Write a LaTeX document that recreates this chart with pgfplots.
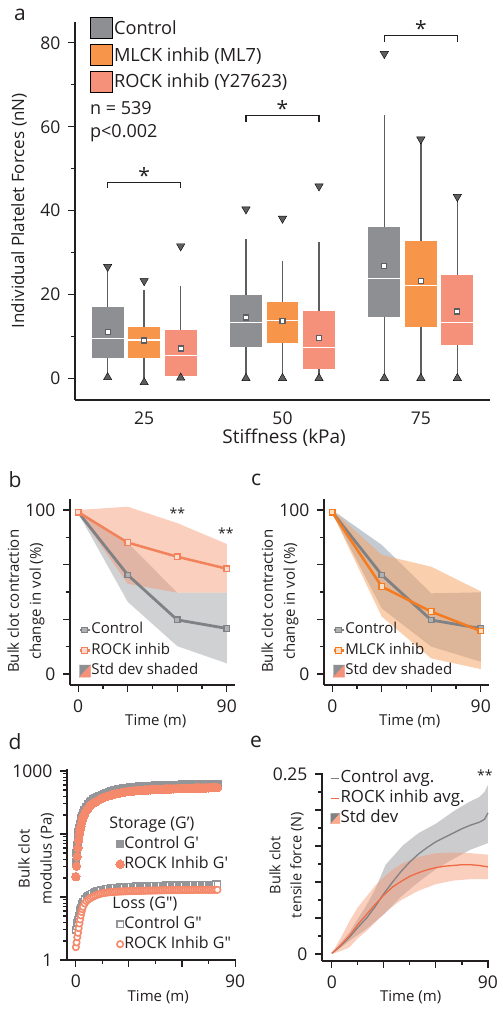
\documentclass[border=0pt]{standalone}
\usepackage{fontspec}
\setmainfont{Open Sans}
\usepackage{pgfplots}
\pgfplotsset{compat=1.18}
\usepgfplotslibrary{statistics}
\usepackage{pgfplotstable}

\definecolor{cgray}{HTML}{8E8F93}
\definecolor{corange}{HTML}{F7964A}
\definecolor{csalmon}{HTML}{F5907A}
\definecolor{cdark}{HTML}{5D5E61}
\definecolor{caxis}{HTML}{231F20}
\definecolor{fgray}{HTML}{A3A5A8}
\definecolor{fsalmon}{HTML}{F7956F}
\definecolor{fblue}{HTML}{8B97A7}
\definecolor{forange}{HTML}{F7A15F}
\definecolor{lgray}{HTML}{808184}
\definecolor{lsalmon}{HTML}{F2825C}
\definecolor{lorange}{HTML}{F47B20}
\definecolor{dsalmon}{HTML}{F5896B}
\definecolor{dgray}{HTML}{939598}
\definecolor{esalmon}{HTML}{EE6A45}

\newcommand\fs[1]{\fontsize{#1}{#1}\selectfont}

\pgfplotstableread{
t cGp rGp cGpp rGpp
0 35 21 3.0 1.6
0.4 50 31 3.4 1.9
0.8 66 44 3.9 2.3
1.2 85 60 4.4 2.7
1.6 105 80 5.0 3.2
2.0 125 100 5.6 3.8
2.4 143 116 6.2 4.4
2.8 161 132 6.8 5.1
3.2 178 148 7.4 5.8
3.6 194 164 7.9 6.4
4 210 180 8.4 7.0
5 240 208 9.3 7.9
6 270 235 10.0 8.6
7 293 258 10.6 9.1
8 315 280 11.0 9.5
9 333 295 11.4 9.9
10 350 310 11.8 10.2
11 363 322 12.1 10.5
12 377 334 12.4 10.8
13 390 345 12.65 11.05
14 403 357 12.9 11.3
15 415 368 13.05 11.45
16 428 379 13.2 11.6
17 440 390 13.4 11.7
18 450 398 13.5 11.8
19 460 406 13.65 11.9
20 470 414 13.8 12.0
21 480 422 13.9 12.04
22 490 430 14.0 12.08
23 497 436 14.1 12.12
24 504 442 14.2 12.16
25 511 448 14.3 12.2
26 518 454 14.36 12.24
27 525 460 14.42 12.28
28 530 464 14.48 12.32
29 535 468 14.54 12.36
30 540 472 14.6 12.4
31 545 476 14.64 12.42
32 550 480 14.68 12.44
33 553 482 14.72 12.46
34 556 485 14.76 12.48
35 559 487 14.8 12.5
36 563 490 14.84 12.52
37 566 492 14.88 12.54
38 569 495 14.92 12.56
39 572 497 14.96 12.58
40 575 500 15.0 12.6
41 577 501 15.03 12.62
42 578 503 15.06 12.64
43 580 504 15.09 12.66
44 582 506 15.12 12.68
45 584 507 15.15 12.7
46 585 509 15.18 12.72
47 587 510 15.21 12.74
48 589 512 15.24 12.76
49 590 513 15.27 12.78
50 592 515 15.3 12.8
51 593 516 15.32 12.81
52 594 517 15.34 12.82
53 596 518 15.36 12.83
54 597 520 15.38 12.84
55 598 521 15.4 12.85
56 599 522 15.42 12.86
57 600 523 15.44 12.87
58 601 524 15.46 12.88
59 603 526 15.48 12.89
60 604 527 15.5 12.9
61 605 528 15.52 12.91
62 606 529 15.54 12.92
63 607 530 15.56 12.93
64 608 531 15.58 12.94
65 609 532 15.6 12.95
66 609 533 15.62 12.96
67 610 534 15.64 12.97
68 611 535 15.66 12.98
69 612 536 15.68 12.99
70 613 537 15.7 13.0
71 614 538 15.72 13.0
72 614 539 15.74 13.0
73 615 540 15.76 13.0
74 616 540 15.78 13.0
75 616 541 15.8 13.0
76 617 542 15.82 13.0
77 618 543 15.84 13.0
78 618 543 15.86 13.0
79 619 544 15.88 13.0
80 620 545 15.9 13.0
}\dtab

\pgfplotsset{
  myaxis/.style={
    scale only axis, anchor=south west, axis lines=left, clip=false,
    axis line style={caxis, line width=1.3bp, -},
    tick style={caxis, line width=1.1bp},
    tick align=outside, major tick length=7bp, minor tick length=4bp,
    /pgf/number format/assume math mode=true,
    tick label style={font=\fs{17.5bp}, text=caxis},
    label style={font=\fs{15bp}, text=caxis},
    yticklabel style={xshift=-4bp},
    xticklabel style={yshift=-4bp},
  },
  bp/.style n args={7}{forget plot,
    boxplot prepared={draw position=#2, lower whisker=#3, lower quartile=#4,
      median=#5, upper quartile=#6, upper whisker=#7,
      box extend=0.23, whisker extend=0},
    boxplot/draw direction=y,
    draw=none, fill=#1,
    boxplot/every box/.style={draw=none, fill=#1},
    boxplot/every whisker/.style={draw=cdark, line width=1.6bp},
    boxplot/every median/.style={draw=white, line width=1.3bp}},
}

\begin{document}
\begin{tikzpicture}
\useasboundingbox (0,0) rectangle (503bp,1014bp);
\fill[white] (0,0) rectangle (503bp,1014bp);

% ---------------- panel a
\node[font=\fs{21bp}, text=caxis] at (20bp,999bp) {a};
\begin{axis}[myaxis, at={(75bp,614bp)}, width=415bp, height=378bp,
  xmin=0.5, xmax=3.5, ymin=-5.2, ymax=85,
  xtick={1,2,3}, xticklabels={25,50,75}, x tick style={draw=none},
  xticklabel style={yshift=3bp},
  ytick={0,20,40,60,80}, minor ytick={10,30,50,70},
  xlabel={Stiffness (kPa)}, ylabel={Individual Platelet Forces (nN)},
  label style={font=\fs{17bp}},
  xlabel style={at={(axis description cs:0.504,-0.1005)}, anchor=center, font=\fs{19bp}},
  ylabel style={at={(axis description cs:-0.135,0.5)}, anchor=center},
  legend style={at={(axis description cs:0.036,1.013)}, anchor=north west,
    draw=none, fill=none, inner sep=0pt, font=\fs{18.2bp}, text=caxis,
    row sep=5.5bp, nodes={inner sep=1.5bp}},
  legend cell align=left,
  legend image code/.code={\fill[#1] (0bp,-10.5bp) rectangle (22bp,10.5bp);},
]
\addlegendimage{fill=cgray}\addlegendentry{Control}
\addlegendimage{fill=corange}\addlegendentry{MLCK inhib (ML7)}
\addlegendimage{fill=csalmon}\addlegendentry{ROCK inhib (Y27623)}

\addplot[bp={cgray}{0.736}{0}{4.9}{9.5}{16.9}{26.6}] coordinates {};
\addplot[bp={corange}{1}{0}{4.8}{9.1}{12.2}{21}] coordinates {};
\addplot[bp={csalmon}{1.264}{0}{0.6}{5.4}{11.4}{22}] coordinates {};
\addplot[bp={cgray}{1.736}{0}{7.4}{13.3}{19.9}{33.1}] coordinates {};
\addplot[bp={corange}{2}{0}{8.3}{13.7}{18.3}{28}] coordinates {};
\addplot[bp={csalmon}{2.264}{0}{2.1}{7.4}{16.1}{32.4}] coordinates {};
\addplot[bp={cgray}{2.736}{0}{14.7}{23.8}{36.1}{62.7}] coordinates {};
\addplot[bp={corange}{3}{0}{12.1}{22.2}{32.7}{57.6}] coordinates {};
\addplot[bp={csalmon}{3.264}{0}{7.9}{13.3}{24.6}{43.3}] coordinates {};

% means
\addplot[forget plot, only marks, mark=square*, mark size=2.5bp,
  mark options={fill=white, draw=cdark, line width=1.2bp}] coordinates {
  (0.736,11.0) (1,9.0) (1.264,7.1) (1.736,14.5) (2,13.7) (2.264,9.6)
  (2.736,26.8) (3,23.2) (3.264,15.9)};
% max
\addplot[forget plot, only marks, mark=triangle*, mark size=4.8bp,
  mark options={rotate=180, fill=cdark, draw=none}] coordinates {
  (0.736,26.6) (1,23.2) (1.264,31.5) (1.736,40.3) (2,38.1) (2.264,45.8)
  (2.736,77.4) (3,57.0) (3.264,43.3)};
% min
\addplot[forget plot, only marks, mark=triangle*, mark size=4.8bp,
  mark options={fill=cdark, draw=none}] coordinates {
  (0.736,0.2) (1,-1.0) (1.264,0.1) (1.736,0) (2,0) (2.264,0)
  (2.736,0) (3,0) (3.264,0)};
% brackets
\addplot[forget plot, caxis, line width=1.3bp] coordinates {(0.736,45.5) (0.736,46.7) (1.264,46.7) (1.264,45.5)};
\addplot[forget plot, caxis, line width=1.3bp] coordinates {(1.736,61.2) (1.736,62.7) (2.264,62.7) (2.264,61.2)};
\addplot[forget plot, caxis, line width=1.3bp] coordinates {(2.736,80.3) (2.736,81.7) (3.264,81.7) (3.264,80.3)};
\node[anchor=north, inner sep=0pt, font=\fs{21bp}, text=caxis] at (axis cs:1,50.4) {*};
\node[anchor=north, inner sep=0pt, font=\fs{21bp}, text=caxis] at (axis cs:2,66.2) {*};
\node[anchor=north, inner sep=0pt, font=\fs{21bp}, text=caxis] at (axis cs:3,85.3) {*};
\node[anchor=west, inner sep=0pt, font=\fs{18bp}, text=caxis] at (axis cs:0.608,64.5) {n = 539};
\node[anchor=west, inner sep=0pt, font=\fs{18bp}, text=caxis] at (axis cs:0.608,58.5) {p<0.002};
\end{axis}

% ---------------- panel b
\node[font=\fs{21bp}, text=caxis] at (15bp,534bp) {b};
\begin{axis}[myaxis, at={(70bp,329bp)}, width=165bp, height=186bp,
  xmin=-5, xmax=95, ymin=-6.7, ymax=106.7,
  xtick={0,30,60,90}, xticklabels={0,,,90}, minor xtick={15,45,75},
  ytick={0,33.333,66.667,100}, yticklabels={0,,,100}, minor ytick={16.667,50,83.333},
  xlabel={Time (m)}, ylabel={Bulk clot contraction\\change in vol (\%)},
  xlabel style={at={(axis description cs:0.52,-0.192)}, anchor=center},
  ylabel style={at={(axis description cs:-0.267,0.45)}, anchor=center, align=center,
    font=\fontsize{15bp}{22bp}\selectfont},
  legend style={at={(axis description cs:0.048,0.338)}, anchor=north west,
    draw=none, fill=none, inner sep=0pt, font=\fs{15bp}, text=caxis,
    row sep=5bp, nodes={inner sep=0.5bp, text height=11bp, text depth=3.5bp}},
  legend cell align=left,
  legend image code/.code={\draw[mark repeat=2,mark phase=2,#1] plot coordinates {(0bp,0bp) (5bp,0bp) (10bp,0bp)};},
]
\addplot[forget plot, fill=fgray, fill opacity=0.5, draw=none] coordinates {
  (0,100) (30,80) (60,49.6) (90,49.6) (90,6.5) (60,17) (30,44) (0,98)};
\addplot[forget plot, fill=fsalmon, fill opacity=0.45, draw=none] coordinates {
  (0,100) (30,102) (60,92) (90,79.3) (90,49.6) (60,49.6) (30,55) (0,98)};
\addplot[lgray, line width=2.8bp, mark=square*, mark size=2.8bp,
  mark options={fill=cgray!70!white, draw=lgray, line width=1.2bp}] coordinates {
  (0,98.6) (30,60.4) (60,33.0) (90,27.8)};
\addlegendentry{Control}
\addplot[lsalmon, line width=2.5bp, mark=square*, mark size=2.8bp,
  mark options={fill=fsalmon!35!white, draw=lsalmon, line width=1.2bp}] coordinates {
  (0,98.6) (30,80.1) (60,71.5) (90,64.2)};
\addlegendentry{ROCK inhib}
\addlegendimage{legend image code/.code={\fill[cgray] (0bp,-6bp) -- (0bp,6bp) -- (11bp,6bp) -- cycle; \fill[csalmon] (0bp,-6bp) -- (11bp,-6bp) -- (11bp,6bp) -- cycle;}}
\addlegendentry{Std dev shaded}
\node[anchor=north, inner sep=0pt, font=\fs{14bp}, text=caxis] at (axis cs:60,101.6) {**};
\node[anchor=north, inner sep=0pt, font=\fs{14bp}, text=caxis] at (axis cs:89.5,89.5) {**};
\end{axis}

% ---------------- panel c
\node[font=\fs{21bp}, text=caxis] at (256bp,534bp) {c};
\begin{axis}[myaxis, at={(324bp,329bp)}, width=165bp, height=186bp,
  xmin=-5, xmax=95, ymin=-6.7, ymax=106.7,
  xtick={0,30,60,90}, xticklabels={0,,,90}, minor xtick={15,45,75},
  ytick={0,33.333,66.667,100}, yticklabels={0,,,100}, minor ytick={16.667,50,83.333},
  xlabel={Time (m)}, ylabel={Bulk clot contraction\\change in vol (\%)},
  xlabel style={at={(axis description cs:0.52,-0.192)}, anchor=center},
  ylabel style={at={(axis description cs:-0.267,0.45)}, anchor=center, align=center,
    font=\fontsize{15bp}{22bp}\selectfont},
  legend style={at={(axis description cs:0.048,0.338)}, anchor=north west,
    draw=none, fill=none, inner sep=0pt, font=\fs{15bp}, text=caxis,
    row sep=5bp, nodes={inner sep=0.5bp, text height=11bp, text depth=3.5bp}},
  legend cell align=left,
  legend image code/.code={\draw[mark repeat=2,mark phase=2,#1] plot coordinates {(0bp,0bp) (5bp,0bp) (10bp,0bp)};},
]
\addplot[forget plot, fill=fblue, fill opacity=0.5, draw=none] coordinates {
  (0,100) (30,78.7) (60,49.2) (90,49.8) (90,7.5) (60,16.7) (30,40) (0,98)};
\addplot[forget plot, fill=forange, fill opacity=0.5, draw=none] coordinates {
  (0,100) (30,72.6) (60,65.4) (90,50.4) (90,3) (60,9.5) (30,35) (0,98)};
\addplot[lgray, line width=2.8bp, mark=square*, mark size=2.8bp,
  mark options={fill=cgray!70!white, draw=lgray, line width=1.2bp}] coordinates {
  (0,98.6) (30,60.4) (60,32.9) (90,27.8)};
\addlegendentry{Control}
\addplot[lorange, line width=2.5bp, mark=square*, mark size=2.8bp,
  mark options={fill=forange!35!white, draw=lorange, line width=1.2bp}] coordinates {
  (0,98.6) (30,53.3) (60,38.0) (90,26.2)};
\addlegendentry{MLCK inhib}
\addlegendimage{legend image code/.code={\fill[cgray] (0bp,-6bp) -- (0bp,6bp) -- (11bp,6bp) -- cycle; \fill[csalmon] (0bp,-6bp) -- (11bp,-6bp) -- (11bp,6bp) -- cycle;}}
\addlegendentry{Std dev shaded}
\end{axis}

% ---------------- panel d
\node[font=\fs{21bp}, text=caxis] at (15bp,272bp) {d};
\begin{axis}[myaxis, at={(67bp,54bp)}, width=169bp, height=191bp,
  xmin=-5, xmax=90.5, ymode=log, ymin=1, ymax=1076,
  ytick={1,10,100,1000}, yticklabels={1,,,1000},
  minor ytick={2,3,4,5,6,7,8,9,20,30,40,50,60,70,80,90,200,300,400,500,600,700,800,900},
  xtick={0,30,60,90}, xticklabels={0,,,90}, minor xtick={15,45,75},
  xlabel={Time (m)}, ylabel={Bulk clot\\modulus (Pa)},
  xlabel style={at={(axis description cs:0.54,-0.194)}, anchor=center},
  ylabel style={at={(axis description cs:-0.183,0.53)}, anchor=center, align=center,
    font=\fontsize{15bp}{22bp}\selectfont},
  legend style={at={(axis description cs:0.263,0.754)}, anchor=north west,
    draw=none, fill=none, inner sep=0pt, font=\fs{16bp}, text=caxis,
    row sep=4bp, nodes={inner sep=0bp, text height=12bp, text depth=4bp}},
  legend cell align=left,
]
\addplot[forget plot, dgray, only marks, mark=square*, mark size=3.8bp,
  mark options={draw=dgray, line width=0pt, fill=dgray}] table[x=t, y=cGp] {\dtab};
\addplot[forget plot, dsalmon, only marks, mark=*, mark size=4.2bp,
  mark options={draw=dsalmon, line width=0pt, fill=dsalmon}] table[x=t, y=rGp] {\dtab};
\addplot[forget plot, dgray, only marks, mark=square*, mark size=3.1bp,
  mark options={draw=dgray, fill=white, line width=1.5bp}] table[x=t, y=cGpp] {\dtab};
\addplot[forget plot, dsalmon, only marks, mark=*, mark size=3.2bp,
  mark options={draw=dsalmon, fill=white, line width=1.6bp}] table[x=t, y=rGpp] {\dtab};
\addlegendimage{empty legend}\addlegendentry{\hspace*{-15bp}Storage (G’)}
\addlegendimage{dgray, only marks, mark=square*, mark size=3.8bp, mark options={draw=dgray, line width=0pt, fill=dgray}}
\addlegendentry{Control G\textquotesingle}
\addlegendimage{dsalmon, only marks, mark=*, mark size=4.2bp, mark options={draw=dsalmon, line width=0pt, fill=dsalmon}}
\addlegendentry{ROCK Inhib G\textquotesingle}
\addlegendimage{empty legend}\addlegendentry{}
\addlegendimage{empty legend}\addlegendentry{\hspace*{-12bp}Loss (G\textquotedbl)}
\addlegendimage{dgray, only marks, mark=square*, mark size=3.1bp, mark options={draw=dgray, fill=white, line width=1.5bp}}
\addlegendentry{Control G\textquotedbl}
\addlegendimage{dsalmon, only marks, mark=*, mark size=3.2bp, mark options={draw=dsalmon, fill=white, line width=1.6bp}}
\addlegendentry{ROCK Inhib G\textquotedbl}
\end{axis}

% ---------------- panel e
\node[font=\fs{21bp}, text=caxis] at (256bp,272bp) {e};
\begin{axis}[myaxis, at={(322bp,53bp)}, width=167bp, height=188bp,
  xmin=-5.7, xmax=90.6, ymin=-0.0097, ymax=0.2514,
  ytick={0,0.05,0.1,0.15,0.2,0.25}, yticklabels={0,,,,,0.25},
  minor ytick={0.025,0.075,0.125,0.175,0.225},
  xtick={0,30,60,90}, xticklabels={0,,,90}, minor xtick={15,45,75},
  xlabel={Time (m)}, ylabel={Bulk clot\\tensile force (N)},
  xlabel style={at={(axis description cs:0.531,-0.19)}, anchor=center},
  ylabel style={at={(axis description cs:-0.2126,0.51)}, anchor=center, align=center,
    font=\fontsize{14.5bp}{21bp}\selectfont},
  legend style={at={(axis description cs:0.048,1.016)}, anchor=north west,
    draw=none, fill=none, inner sep=0pt, font=\fs{16.8bp}, text=caxis,
    row sep=3bp, nodes={inner sep=0.5bp, text height=12bp, text depth=4bp}},
  legend cell align=left,
  legend image code/.code={\draw[#1] (0bp,0bp) -- (8bp,0bp);},
]
\addplot[forget plot, fill=cgray, fill opacity=0.45, draw=none] coordinates {
  (0,0.001) (10,0.03) (20,0.068) (25,0.09) (31,0.124) (41,0.151) (50,0.168)
  (60,0.181) (70,0.198) (79,0.211) (85,0.218) (88,0.225) (90,0.235)
  (90,0.154) (80,0.145) (70,0.132) (60,0.118) (50,0.10) (40,0.08) (30,0.055)
  (20,0.035) (10,0.018) (0,0)};
\addplot[forget plot, fill=fsalmon, fill opacity=0.45, draw=none] coordinates {
  (0,0.001) (5,0.022) (10,0.045) (15,0.065) (20,0.08) (25,0.095) (30,0.107)
  (35,0.117) (40,0.125) (50,0.135) (60,0.14) (70,0.141) (80,0.14) (90,0.138)
  (90,0.104) (80,0.104) (70,0.102) (60,0.097) (50,0.088) (40,0.075) (35,0.066)
  (30,0.056) (25,0.044) (20,0.032) (15,0.022) (10,0.009) (5,0.004) (0,0)};
\addplot[lgray, line width=1.3bp] coordinates {
  (0,0.001) (5,0.011) (10,0.023) (15,0.037) (20,0.050) (25,0.066) (30,0.084)
  (35,0.100) (40,0.115) (45,0.128) (50,0.139) (55,0.148) (60,0.156) (65,0.162)
  (70,0.168) (75,0.174) (80,0.179) (85,0.183) (88,0.187) (90,0.196)};
\addlegendentry{Control avg.}
\addplot[esalmon, line width=1.3bp] coordinates {
  (0,0.001) (5,0.012) (10,0.025) (15,0.041) (20,0.055) (25,0.069) (30,0.082)
  (35,0.093) (40,0.101) (45,0.108) (50,0.113) (55,0.117) (60,0.120) (65,0.122)
  (70,0.123) (75,0.124) (80,0.124) (85,0.123) (90,0.121)};
\addlegendentry{ROCK inhib avg.}
\addlegendimage{legend image code/.code={\fill[lgray] (0bp,-5bp) -- (0bp,5bp) -- (9bp,5bp) -- cycle; \fill[fsalmon!80!white] (0bp,-5bp) -- (9bp,-5bp) -- (9bp,5bp) -- cycle;}}
\addlegendentry{Std dev}
\node[anchor=north, inner sep=0pt, font=\fs{14bp}, text=caxis] at (axis cs:88.2,0.2556) {**};
\end{axis}
\end{tikzpicture}
\end{document}
